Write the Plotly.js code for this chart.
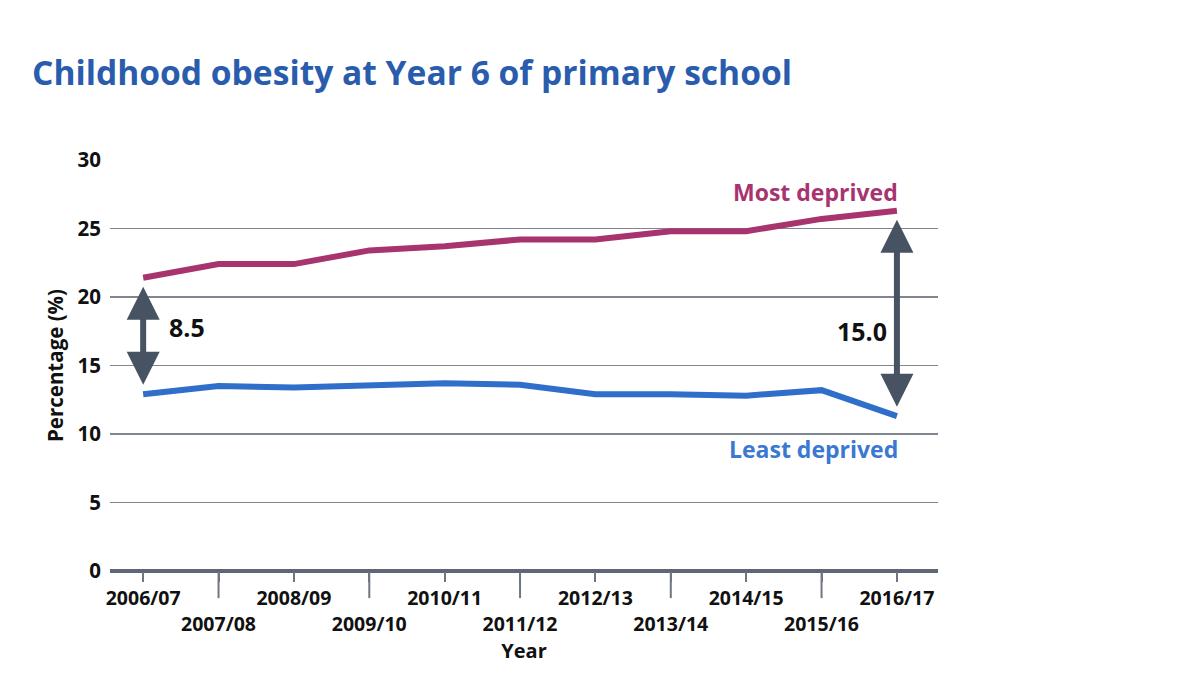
<!DOCTYPE html>
<html>
<head>
<meta charset="utf-8">
<script src="https://cdn.plot.ly/plotly-3.0.1.min.js"></script>
<style>html,body{margin:0;padding:0;background:#fff;}#chart{width:1200px;height:675px;}</style>
</head>
<body>
<div id="chart"></div>
<script>
const years = ["2006/07","2007/08","2008/09","2009/10","2010/11","2011/12","2012/13","2013/14","2014/15","2015/16","2016/17"];
const mostDeprived = [21.4, 22.4, 22.4, 23.4, 23.7, 24.2, 24.2, 24.8, 24.8, 25.7, 26.3];
const leastDeprived = [12.9, 13.5, 13.4, 13.5, 13.7, 13.6, 12.9, 12.9, 12.8, 13.2, 11.3];
const yTicks = [0, 5, 10, 15, 20, 25, 30];

const FONT = "Open Sans, Noto Sans, Liberation Sans, sans-serif";
const MAGENTA = "#a8346f";
const BLUE = "#2f6fc9";
const BLUE_TXT = "#3a78d2";
const ARROW = "#475262";
const INK = "#111111";

const idx = years.map((_, i) => i);
const last = years.length - 1;

const traces = [
  {x: idx, y: mostDeprived, type: "scatter", mode: "lines", name: "Most deprived",
   line: {color: MAGENTA, width: 6}, hoverinfo: "skip"},
  {x: idx, y: leastDeprived, type: "scatter", mode: "lines", name: "Least deprived",
   line: {color: BLUE, width: 6}, hoverinfo: "skip"}
];

// tick labels: odd-index labels dropped to a second line
const tickText = years.map((y, i) => (i % 2 === 1 ? "<br><b>" + y + "</b>" : "<b>" + y + "</b>"));

// long ticks for the odd (lower) labels
const shapes = idx.filter(i => i % 2 === 1).map(i => ({
  type: "line", xref: "x", yref: "paper", x0: i, x1: i, y0: 0, y1: -0.066,
  line: {color: "#6f7682", width: 2}, layer: "below"
}));

function gapArrow(i, dx, anchor, dy) {
  const gap = (mostDeprived[i] - leastDeprived[i]).toFixed(1);
  return [
    {x: i, y: mostDeprived[i], ax: i, ay: leastDeprived[i], xref: "x", yref: "y", axref: "x", ayref: "y",
     text: "", showarrow: true, arrowside: "end+start", arrowhead: 2, startarrowhead: 2,
     arrowsize: 1.1, startarrowsize: 1.1, arrowwidth: 6, arrowcolor: ARROW,
     standoff: 9, startstandoff: 8},
    {x: i, y: (mostDeprived[i] + leastDeprived[i]) / 2, xref: "x", yref: "y",
     text: "<b>" + gap + "</b>", showarrow: false, xanchor: anchor, xshift: dx, yshift: dy,
     font: {family: FONT, size: 25, color: INK}}
  ];
}

const annotations = [
  ...gapArrow(0, 24, "left", 9),
  ...gapArrow(last, -8, "right", -18),
  {x: last, y: mostDeprived[last], xref: "x", yref: "y", text: "<b>Most deprived</b>",
   showarrow: false, xanchor: "right", yanchor: "middle", yshift: 19, xshift: 3,
   font: {family: FONT, size: 23, color: MAGENTA}},
  {x: last, y: leastDeprived[last], xref: "x", yref: "y", text: "<b>Least deprived</b>",
   showarrow: false, xanchor: "right", yanchor: "middle", yshift: -33, xshift: 3,
   font: {family: FONT, size: 23, color: BLUE_TXT}}
];

const layout = {
  width: 1200, height: 675,
  paper_bgcolor: "#ffffff", plot_bgcolor: "#ffffff",
  margin: {l: 110, r: 262, t: 160, b: 104, pad: 0},
  showlegend: false,
  title: {text: "<b>Childhood obesity at Year 6 of primary school</b>",
    x: 32 / 1200, xref: "container", xanchor: "left",
    y: 1 - 73 / 675, yref: "container", yanchor: "middle",
    font: {family: FONT, size: 33.6, color: "#2a5cae"}},
  xaxis: {
    range: [-0.44, 10.545], tickmode: "array", tickvals: idx, ticktext: tickText,
    tickangle: 0,
    ticks: "outside", ticklen: 10, tickwidth: 2, tickcolor: "#6f7682",
    showgrid: false, zeroline: false, showline: false,
    tickfont: {family: FONT, size: 19.5, color: INK},
    title: {text: "<b>Year</b>", font: {family: FONT, size: 20, color: INK}, standoff: 4},
    fixedrange: true
  },
  yaxis: {
    range: [0, 30], tickmode: "array", tickvals: yTicks, ticktext: yTicks.map(v => "<b>" + v + "</b>"),
    showgrid: true, gridcolor: "#80868f", gridwidth: 1.5,
    zeroline: true, zerolinecolor: "#5f6674", zerolinewidth: 3.5,
    showline: false, ticks: "", ticklabelstandoff: 8,
    tickfont: {family: FONT, size: 20.5, color: INK},
    title: {text: "<b>Percentage (%)</b>", font: {family: FONT, size: 20.5, color: INK}, standoff: 8},
    fixedrange: true
  },
  shapes: shapes,
  annotations: annotations
};

Plotly.newPlot("chart", traces, layout, {displayModeBar: false, staticPlot: true});
</script>
</body>
</html>
